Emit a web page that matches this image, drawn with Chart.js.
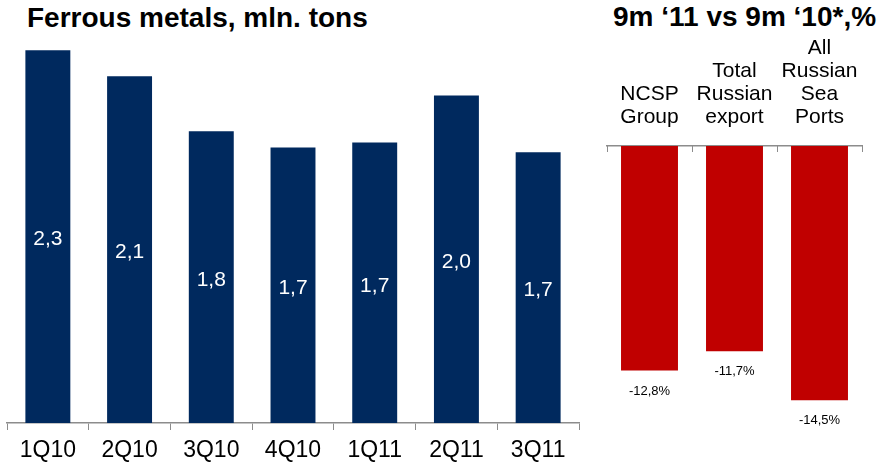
<!DOCTYPE html>
<html>
<head>
<meta charset="utf-8">
<script src="https://cdn.jsdelivr.net/npm/chart.js@4.4.1/dist/chart.umd.min.js"></script>
<style>
  html, body { margin: 0; padding: 0; background: #fff; }
  body { width: 879px; height: 465px; position: relative; overflow: hidden; font-family: "Liberation Sans", Arial, sans-serif; }
  .title { position: absolute; font-weight: bold; font-size: 28px; line-height: 28px; color: #000; white-space: nowrap; }
  #leftWrap { position: absolute; left: 0; top: 0; width: 590px; height: 465px; }
  #rightWrap { position: absolute; left: 590px; top: 0; width: 289px; height: 465px; }
</style>
</head>
<body>
<div class="title" style="left:27px; top:4px;">Ferrous metals, mln. tons</div>
<div class="title" style="left:613px; top:3px;">9m ‘11 vs 9m ‘10*,%</div>
<div id="leftWrap"><canvas id="left" width="590" height="465"></canvas></div>
<div id="rightWrap"><canvas id="right" width="289" height="465"></canvas></div>
<script>
// ---- data ----
const quarters = ['1Q10', '2Q10', '3Q10', '4Q10', '1Q11', '2Q11', '3Q11'];
const ferrousValues = [2.30, 2.14, 1.80, 1.70, 1.73, 2.02, 1.67];
const compareCategories = [['NCSP', 'Group'], ['Total', 'Russian', 'export'], ['All', 'Russian', 'Sea', 'Ports']];
const changeValues = [-12.8, -11.7, -14.5];

const FONT = '"Liberation Sans", Arial, sans-serif';
const fmt1 = v => v.toFixed(1).replace('.', ',');

function makeLabelPlugin(cfg) {
  return {
    id: 'valueLabels',
    afterDatasetsDraw(chart) {
      const ctx = chart.ctx;
      const meta = chart.getDatasetMeta(0);
      const data = chart.data.datasets[0].data;
      ctx.save();
      ctx.font = cfg.font;
      ctx.fillStyle = cfg.color;
      ctx.textAlign = 'center';
      ctx.textBaseline = 'middle';
      meta.data.forEach((bar, i) => {
        const v = Number(data[i]);
        const y = cfg.mode === 'center' ? (bar.y + bar.base) / 2 + cfg.offset : bar.y + cfg.offset;
        ctx.fillText(cfg.format(v), bar.x, y);
      });
      ctx.restore();
    }
  };
}

new Chart(document.getElementById('left'), {
  type: 'bar',
  data: {
    labels: quarters,
    datasets: [{
      data: ferrousValues,
      backgroundColor: '#00295E',
      borderWidth: 0,
      categoryPercentage: 1,
      barPercentage: 0.55
    }]
  },
  options: {
    responsive: false,
    animation: false,
    devicePixelRatio: 1,
    layout: { padding: { left: 7, right: 11, top: 34, bottom: 0 } },
    plugins: { legend: { display: false }, tooltip: { enabled: false } },
    scales: {
      x: {
        afterFit(scale) { scale.height = 42; scale.paddingLeft = 0; scale.paddingRight = 0; },
        grid: { offset: true, drawOnChartArea: false, drawTicks: true, tickLength: 7, color: '#8c8c8c', lineWidth: 1 },
        border: { color: '#8c8c8c', width: 1.5 },
        ticks: { color: '#000', font: { family: FONT, size: 23, lineHeight: 1.2 }, padding: 7, maxRotation: 0, autoSkip: false }
      },
      y: { display: false, min: 0, max: 2.4 }
    }
  },
  plugins: [makeLabelPlugin({ mode: 'center', offset: 3, font: '21px ' + FONT, color: '#ffffff', format: fmt1 })]
});

new Chart(document.getElementById('right'), {
  type: 'bar',
  data: {
    labels: compareCategories,
    datasets: [{
      data: changeValues,
      backgroundColor: '#C00000',
      borderWidth: 0,
      categoryPercentage: 1,
      barPercentage: 0.67
    }]
  },
  options: {
    responsive: false,
    animation: false,
    devicePixelRatio: 1,
    layout: { padding: { left: 17, right: 17, top: 0, bottom: 5 } },
    plugins: { legend: { display: false }, tooltip: { enabled: false } },
    scales: {
      x: {
        position: 'top',
        afterFit(scale) { scale.height = 146; scale.paddingLeft = 0; scale.paddingRight = 0; },
        grid: { offset: true, drawOnChartArea: false, drawTicks: true, tickLength: -6, color: '#8c8c8c', lineWidth: 1 },
        border: { color: '#8c8c8c', width: 1.5 },
        ticks: { color: '#000', font: { family: FONT, size: 21, lineHeight: 1.095 }, padding: 23, maxRotation: 0, autoSkip: false }
      },
      y: { display: false, min: -17.9, max: 0 }
    }
  },
  plugins: [makeLabelPlugin({ mode: 'below', offset: 20.5, font: '13px ' + FONT, color: '#000000', format: v => fmt1(v) + '%' })]
});
</script>
</body>
</html>
